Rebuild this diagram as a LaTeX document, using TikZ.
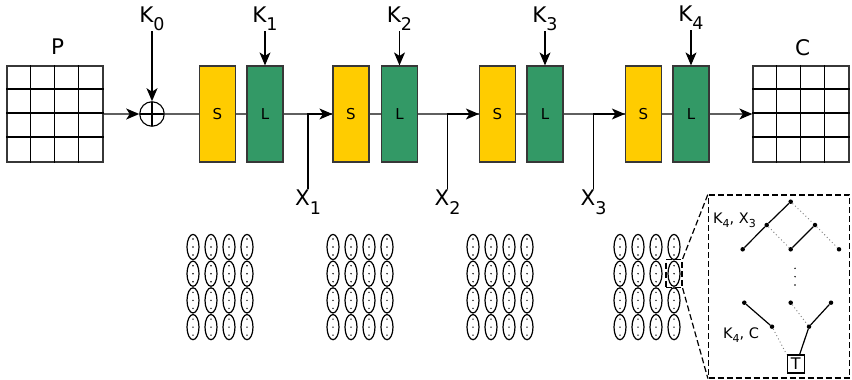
\documentclass[tikz,border=0pt]{standalone}
\usepackage{fontspec}
\setmainfont{DejaVu Sans}
\usetikzlibrary{arrows.meta}

\definecolor{sboxfill}{RGB}{255,204,0}
\definecolor{lboxfill}{RGB}{51,153,102}
\definecolor{edgegray}{RGB}{55,55,55}
\definecolor{wiregray}{RGB}{95,95,95}

% label with a large lowered index
\newcommand{\keylab}[2]{#1\raisebox{-9pt}{\fontsize{17.5}{18}\selectfont #2}}
% smaller variant for the inset
\newcommand{\smalllab}[2]{#1\raisebox{-4.5pt}{\fontsize{11}{12}\selectfont #2}}

\tikzset{
  biglabel/.style={inner sep=0pt, font=\fontsize{21.5}{24}\selectfont},
  insetlabel/.style={inner sep=0pt, font=\fontsize{14.5}{16}\selectfont},
  roundbox/.style={draw=edgegray, line width=1.2pt, minimum width=36pt,
    minimum height=96pt, inner sep=0pt, font=\fontsize{15}{16}\selectfont},
  sbox/.style={roundbox, fill=sboxfill},
  lbox/.style={roundbox, fill=lboxfill},
  statebox/.style={draw=edgegray, line width=1.3pt, minimum size=96pt, inner sep=0pt},
  wire/.style={draw=wiregray, line width=1.2pt},
  blackwire/.style={draw=black, line width=1.2pt},
  arrowed/.style={-{Stealth[length=13pt,width=11pt,inset=3.5pt,color=black]}},
  tdot/.style={circle, fill=black, inner sep=0pt, minimum size=4.5pt},
  solidedge/.style={line width=1.2pt},
  dotedge/.style={draw=gray, line width=0.9pt, dash pattern=on 1pt off 2.6pt},
  zoomdash/.style={line width=1.2pt, dash pattern=on 6pt off 3pt},
}

\begin{document}
\begin{tikzpicture}[x=1pt,y=-1pt]
\useasboundingbox (0,0) rectangle (852,380);

% plaintext and ciphertext states
\node[statebox] (P) at (55,114) {};
\node[statebox] (C) at (801,114) {};
\foreach \s in {P,C}{
  \foreach \i in {1,2,3}{
    \draw[line width=1.3pt] ([xshift={\i*24pt}]\s.north west) -- ([xshift={\i*24pt}]\s.south west);
    \draw[line width=1.9pt] ([yshift={-\i*24pt}]\s.north west) -- ([yshift={-\i*24pt}]\s.north east);
  }
}
\node[biglabel] (Plab) at (57.5,47) {P};
\node[biglabel] (Clab) at (802.5,48) {C};

% key addition
\node[circle, draw=black, line width=1.1pt, minimum size=24.5pt, inner sep=0pt,
  path picture={\draw[line width=1.1pt]
    (path picture bounding box.north) -- (path picture bounding box.south)
    (path picture bounding box.west) -- (path picture bounding box.east);}]
  (xor) at (152,114) {};

% rounds
\node[sbox] (S1) at (217.5,114) {S};
\node[lbox] (L1) at (265,114) {L};
\node[sbox] (S2) at (351,114) {S};
\node[lbox] (L2) at (399.5,114) {L};
\node[sbox] (S3) at (497.5,114) {S};
\node[lbox] (L3) at (545,114) {L};
\node[sbox] (S4) at (643.5,114) {S};
\node[lbox] (L4) at (691,114) {L};

% round keys
\node[biglabel, anchor=base] (k0) at (152,22) {\keylab{K}{0}};
\node[biglabel, anchor=base] (k1) at (265,22) {\keylab{K}{1}};
\node[biglabel, anchor=base] (k2) at (399.5,22) {\keylab{K}{2}};
\node[biglabel, anchor=base] (k3) at (545,22) {\keylab{K}{3}};
\node[biglabel, anchor=base] (k4) at (691,21) {\keylab{K}{4}};

% intermediate states
\node[biglabel, anchor=base] (X1) at (308,205) {\keylab{X}{1}};
\node[biglabel, anchor=base] (X2) at (447.5,205) {\keylab{X}{2}};
\node[biglabel, anchor=base] (X3) at (593.5,205) {\keylab{X}{3}};

% data path
\draw[wire, arrowed] (P.east) -- (xor.west);
\draw[wire] (xor.east) -- (S1.west);
\draw[wire] (S1.east) -- (L1.west);
\draw[wire] (L1.east) -- (S2.west);
\draw[wire] (S2.east) -- (L2.west);
\draw[wire] (L2.east) -- (S3.west);
\draw[wire] (S3.east) -- (L3.west);
\draw[wire] (L3.east) -- (S4.west);
\draw[wire] (S4.east) -- (L4.west);
\draw[wire, arrowed] (L4.east) -- (C.west);

\draw[blackwire, arrowed] (X1.north) |- (S2.west);
\draw[blackwire, arrowed] (X2.north) |- (S3.west);
\draw[blackwire, arrowed] (X3.north) |- (S4.west);

\draw[blackwire, arrowed] (k0.south) -- (xor.north);
\draw[blackwire, arrowed] (k1.south) -- (L1.north);
\draw[blackwire, arrowed] (k2.south) -- (L2.north);
\draw[blackwire, arrowed] (k3.south) -- (L3.north);
\draw[blackwire, arrowed] (k4.south) -- (L4.north);

% per-byte leakage ellipses
\foreach \g in {193,333,473,620}{
  \foreach \c in {0,...,3}{
    \foreach \r in {0,...,3}{
      \draw[line width=1.2pt] (\g+18*\c, 247+26.7*\r) ellipse [x radius=6pt, y radius=12.6pt];
      \fill (\g+18*\c, 239+26.7*\r) circle [radius=0.8pt];
      \fill (\g+18*\c, 247+26.7*\r) circle [radius=0.8pt];
      \fill (\g+18*\c, 255+26.7*\r) circle [radius=0.8pt];
    }
  }
}

% magnified view
\node[draw, zoomdash, minimum width=16pt, minimum height=28pt, inner sep=0pt] (zsrc) at (674,273.5) {};
\node[draw, zoomdash, minimum width=141pt, minimum height=183pt, inner sep=0pt] (zbox) at (779,286.5) {};
\draw[zoomdash] (zsrc.north east) -- (zbox.north west);
\draw[zoomdash] (zsrc.south east) -- (zbox.south west);

% upper tree
\node[tdot] (r) at (790.7,201.7) {};
\node[tdot] (a) at (766.7,225) {};
\node[tdot] (b) at (815,225) {};
\node[tdot] (c) at (742.7,249.3) {};
\node[tdot] (d) at (790.7,249.3) {};
\node[tdot] (e) at (839,249.3) {};
\draw[solidedge] (r) -- (a);
\draw[solidedge] (a) -- (c);
\draw[solidedge] (b) -- (d);
\draw[dotedge] (r) -- (b);
\draw[dotedge] (a) -- (d);
\draw[dotedge] (b) -- (e);

% vertical ellipsis
\fill (795,268.3) circle [radius=0.8pt];
\fill (795,276.7) circle [radius=0.8pt];
\fill (795,285) circle [radius=0.8pt];

% lower tree
\node[tdot] (f) at (744.3,302.7) {};
\node[tdot] (g) at (790.7,302.7) {};
\node[tdot] (h) at (831,302.7) {};
\node[tdot] (i) at (772,326.7) {};
\node[tdot] (j) at (809,326.7) {};
\node[draw, line width=1.2pt, minimum width=17pt, minimum height=18pt, inner sep=0pt,
  font=\fontsize{16}{17}\selectfont] (T) at (795.7,364) {T};
\draw[solidedge] (f) -- (i);
\draw[solidedge] (h) -- (j);
\draw[solidedge] (j) -- ([xshift=4pt]T.north);
\draw[dotedge] (g) -- (j);
\draw[dotedge] (i) -- (T.north west);

\node[insetlabel, anchor=base] (kx) at (734.5,223.3) {\smalllab{K}{4}, \smalllab{X}{3}};
\node[insetlabel, anchor=base] (kc) at (741,338.3) {\smalllab{K}{4}, C};
\end{tikzpicture}
\end{document}
